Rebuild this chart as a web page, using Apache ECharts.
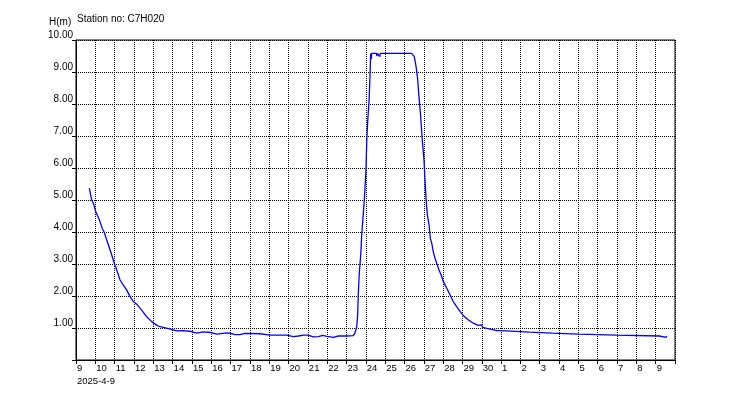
<!DOCTYPE html>
<html><head><meta charset="utf-8">
<script src="https://cdn.jsdelivr.net/npm/echarts@6/dist/echarts.min.js"></script>
<style>html,body{margin:0;padding:0;background:#fff}#c{width:750px;height:400px}</style>
</head><body><div id="c"></div>
<script>
// Time as days since 2025-04-09 00:00, water level H (m)
const stationTitle = 'Station no: C7H020';
const yAxisTitle = 'H(m)';
const firstDateLabel = '2025-4-9';
const startYear = 2025, startMonth = 3, startDay = 9;
const dayOffsets = [
  0.69, 0.81, 0.90, 1.02, 1.21, 1.36, 1.46, 1.59, 1.71, 1.85,
  1.98, 2.11, 2.28, 2.45, 2.62, 2.80, 2.97, 3.15, 3.40, 3.66,
  3.92, 4.18, 4.35, 4.52, 4.93, 5.21, 5.55, 5.97, 6.25, 6.59,
  6.95, 7.28, 7.80, 7.97, 8.23, 8.49, 8.75, 9.52, 10.04, 10.91,
  11.25, 11.51, 11.77, 12.02, 12.28, 12.54, 12.77, 12.98, 13.32, 13.58,
  14.01, 14.35, 14.44, 14.53, 14.58, 14.61, 14.66, 14.74, 14.79, 14.87,
  14.92, 15.00, 15.05, 15.10, 15.17, 15.22, 15.25, 15.28, 15.30, 15.55,
  15.57, 15.60, 15.70, 15.72, 15.75, 17.37, 17.51, 17.60, 17.67, 17.75,
  17.84, 17.92, 18.01, 18.06, 18.12, 18.18, 18.27, 18.34, 18.41, 18.49,
  18.58, 18.67, 18.79, 18.93, 19.01, 19.19, 19.36, 19.53, 19.70, 19.88,
  20.08, 20.31, 20.56, 20.81, 20.91, 20.98, 21.05, 21.26, 21.78, 21.95,
  22.29, 22.30, 23.46, 23.47, 24.64, 24.65, 26.02, 26.03, 27.95, 27.96,
  30.19, 30.20, 30.54, 30.57
];
const levels = [
  5.37, 5.00, 4.90, 4.64, 4.38, 4.11, 3.99, 3.75, 3.54, 3.28,
  3.02, 2.81, 2.50, 2.34, 2.19, 1.98, 1.82, 1.74, 1.56, 1.35,
  1.20, 1.09, 1.04, 1.02, 0.96, 0.91, 0.92, 0.89, 0.84, 0.88,
  0.86, 0.81, 0.85, 0.84, 0.79, 0.79, 0.83, 0.82, 0.78, 0.78,
  0.73, 0.75, 0.78, 0.78, 0.72, 0.73, 0.77, 0.74, 0.71, 0.75,
  0.75, 0.76, 0.85, 1.04, 1.46, 2.08, 2.71, 3.33, 3.96, 4.58,
  5.00, 5.83, 6.88, 7.50, 8.13, 8.96, 9.58, 9.40, 9.58, 9.58,
  9.50, 9.58, 9.58, 9.48, 9.58, 9.58, 9.48, 9.17, 8.85, 8.23,
  7.60, 6.88, 6.25, 5.63, 5.00, 4.55, 4.22, 3.80, 3.65, 3.38,
  3.18, 3.02, 2.81, 2.60, 2.45, 2.24, 2.03, 1.82, 1.67, 1.51,
  1.37, 1.25, 1.15, 1.08, 1.06, 1.10, 1.02, 0.99, 0.92, 0.92,
  0.91, 0.87, 0.87, 0.84, 0.84, 0.81, 0.81, 0.78, 0.78, 0.75,
  0.75, 0.71, 0.71, 0.75
];
const yMin = 0, yMax = 10, yStep = 1;
const xMin = 0, xMax = 31, xStep = 1;

const font = "'Liberation Sans', Arial, sans-serif";
const chart = echarts.init(document.getElementById('c'), null, {renderer: 'canvas'});
chart.setOption({
  animation: false,
  backgroundColor: '#fff',
  grid: {left: 76, right: 75, top: 40, bottom: 40, show: true, borderColor: '#000', borderWidth: 1, backgroundColor: 'transparent'},
  graphic: [
    {type: 'text', left: 49, top: 17, style: {text: yAxisTitle, font: '10px ' + font, fill: '#000'}},
    {type: 'text', left: 77, top: 14, style: {text: stationTitle, font: '10px ' + font, fill: '#000'}},
    {type: 'text', left: 77, top: 376, style: {text: firstDateLabel, font: '9.5px ' + font, fill: '#000'}}
  ],
  xAxis: {
    type: 'value', min: xMin, max: xMax, interval: xStep,
    axisLine: {show: true, onZero: false, lineStyle: {color: '#000', width: 1}},
    axisTick: {show: true, length: 4, lineStyle: {color: '#000'}},
    splitLine: {show: true, lineStyle: {color: '#000', width: 1, type: [1, 1]}},
    axisLabel: {
      margin: 3, align: 'left', padding: [0, 0, 0, 1],
      showMinLabel: true, hideOverlap: false,
      color: '#000', fontSize: 9.5, fontFamily: font,
      formatter: function (v) {
        if (v >= xMax) return '';
        const d = new Date(startYear, startMonth, startDay + v);
        return String(d.getDate());
      }
    }
  },
  yAxis: {
    type: 'value', min: yMin, max: yMax, interval: yStep,
    axisLine: {show: true, lineStyle: {color: '#000', width: 1}},
    axisTick: {show: true, length: 4, lineStyle: {color: '#000'}},
    splitLine: {show: true, lineStyle: {color: '#000', width: 1, type: [1, 1]}},
    axisLabel: {
      margin: 3, color: '#000', fontSize: 10, fontFamily: font, verticalAlign: 'bottom',
      showMinLabel: true,
      formatter: function (v) { return v === 0 ? '' : v.toFixed(2); }
    }
  },
  series: [{
    type: 'line',
    data: dayOffsets.map((d, i) => [d, levels[i]]),
    showSymbol: false,
    lineStyle: {color: '#0000ff', width: 1.3},
    itemStyle: {color: '#0000ff'}
  }]
});
</script>
</body></html>
